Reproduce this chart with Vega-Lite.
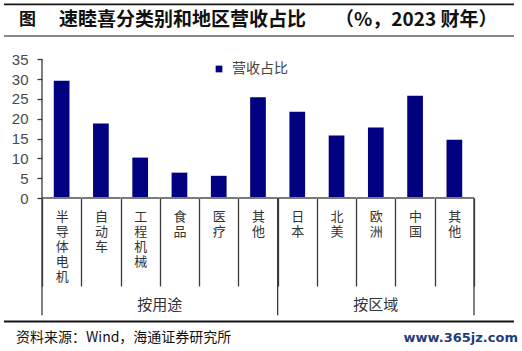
{
  "$schema": "https://vega.github.io/schema/vega-lite/v6.json",
  "padding": {"left": 3, "top": 0, "right": 0, "bottom": 0},
  "autosize": {"type": "pad"},
  "spacing": 0,
  "background": "white",
  "config": {"view": {"stroke": null}, "concat": {"spacing": 0}},
  "resolve": {"scale": {"x": "independent", "y": "independent", "color": "independent"}},
  "vconcat": [
    {
      "width": 510,
      "height": 52,
      "data": {"values": [{}]},
      "layer": [
        {
          "mark": {"type": "text", "align": "left", "baseline": "middle", "font": "Noto Sans CJK SC", "fontSize": 17, "fontWeight": "bold", "color": "#111111"},
          "encoding": {
            "x": {"datum": 25, "type": "quantitative", "scale": {"domain": [10, 520], "nice": false, "zero": false}, "axis": null},
            "y": {"datum": 30, "type": "quantitative", "scale": {"domain": [10, 62], "nice": false, "zero": false, "reverse": true}, "axis": null},
            "text": {"value": "图"}
          }
        },
        {
          "mark": {"type": "rule", "color": "#141414", "strokeWidth": 1.7},
          "encoding": {
            "y": {"datum": 14.45, "type": "quantitative"}
          }
        },
        {
          "mark": {"type": "rule", "color": "#141414", "strokeWidth": 1.1},
          "encoding": {
            "y": {"datum": 46.05, "type": "quantitative"}
          }
        },
        {
          "mark": {"type": "text", "align": "left", "baseline": "middle", "font": "Noto Sans CJK SC", "fontSize": 19, "fontWeight": "bold", "color": "#111111"},
          "encoding": {
            "x": {"datum": 65, "type": "quantitative"},
            "y": {"datum": 30, "type": "quantitative"},
            "text": {"value": "速睦喜分类别和地区营收占比"}
          }
        },
        {
          "mark": {"type": "text", "align": "left", "baseline": "middle", "font": "Noto Sans CJK SC", "fontSize": 19, "fontWeight": "bold", "color": "#111111"},
          "encoding": {
            "x": {"datum": 341, "type": "quantitative"},
            "y": {"datum": 30, "type": "quantitative"},
            "text": {"value": "（%，2023 财年）"}
          }
        }
      ]
    },
    {
      "width": 510,
      "height": 146,
      "data": {"values": [
        {"cat": "半导体电机", "v": 29.6},
        {"cat": "自动车", "v": 18.8},
        {"cat": "工程机械", "v": 10.2},
        {"cat": "食品", "v": 6.4},
        {"cat": "医疗", "v": 5.6},
        {"cat": "其他", "v": 25.4},
        {"cat": "日本", "v": 21.8},
        {"cat": "北美", "v": 15.8},
        {"cat": "欧洲", "v": 17.8},
        {"cat": "中国", "v": 25.8},
        {"cat": "其他 ", "v": 14.7}
      ]},
      "layer": [
        {
          "mark": {"type": "bar", "width": {"band": 0.4}},
          "encoding": {
            "x": {
              "field": "cat", "type": "nominal", "sort": null,
              "scale": {"range": [38, 470], "paddingInner": 0, "paddingOuter": 0},
              "axis": {
                "title": null, "domain": false, "grid": false,
                "tickBand": "extent", "tickSize": 88, "tickColor": "#3a3a3a", "tickWidth": 1.3,
                "labelExpr": "split(datum.label, '')",
                "labelPadding": -76, "labelBaseline": "top", "labelAngle": 0,
                "labelFont": "Noto Sans CJK SC", "labelFontSize": 13, "labelColor": "#333333",
                "labelLineHeight": 15, "labelOverlap": false, "labelFlush": false
              }
            },
            "y": {
              "field": "v", "type": "quantitative",
              "scale": {"domain": [0, 36.85], "nice": false},
              "axis": {
                "title": null, "domain": false, "grid": false, "offset": -38,
                "values": [0, 5, 10, 15, 20, 25, 30, 35], "tickCount": 8,
                "labelOverlap": false,
                "tickSize": 5, "tickColor": "#3a3a3a", "tickWidth": 1.3,
                "labelFont": "Liberation Sans", "labelFontSize": 15, "labelColor": "#4a4a4a",
                "labelPadding": 9
              }
            },
            "color": {
              "datum": "营收占比", "type": "nominal",
              "scale": {"range": ["#000080"]},
              "legend": {
                "title": null, "orient": "none", "legendX": 208, "legendY": 10,
                "symbolType": "square", "symbolSize": 45, "symbolStrokeWidth": 0,
                "labelFont": "Noto Sans CJK SC", "labelFontSize": 14, "labelColor": "#444444",
                "labelOffset": 6
              }
            }
          }
        },
        {
          "mark": {"type": "rect", "color": "#7a7a7a"},
          "encoding": {
            "x": {"field": "cat", "type": "nominal", "sort": null},
            "y": {
              "datum": 0.25, "type": "quantitative",
              "axis": {
                "title": null, "domain": false, "grid": false, "offset": -38,
                "values": [0, 5, 10, 15, 20, 25, 30, 35], "tickCount": 8,
                "labelOverlap": false,
                "tickSize": 5, "tickColor": "#3a3a3a", "tickWidth": 1.3,
                "labelFont": "Liberation Sans", "labelFontSize": 15, "labelColor": "#4a4a4a",
                "labelPadding": 9
              }
            },
            "y2": {"datum": -0.25}
          }
        },
        {
          "data": {"values": [{}]},
          "mark": {"type": "rule", "color": "#3a3a3a", "strokeWidth": 1.3},
          "encoding": {
            "x": {"datum": "半导体电机", "type": "nominal", "bandPosition": 0},
            "y": {"datum": 35, "type": "quantitative"},
            "y2": {"datum": -29.6}
          }
        },
        {
          "data": {"values": [{}]},
          "mark": {"type": "rule", "color": "#3a3a3a", "strokeWidth": 1.3},
          "encoding": {
            "x": {"datum": "日本", "type": "nominal", "bandPosition": 0},
            "y": {"datum": 0, "type": "quantitative"},
            "y2": {"datum": -29.6}
          }
        },
        {
          "data": {"values": [{}]},
          "mark": {"type": "rule", "color": "#3a3a3a", "strokeWidth": 1.3},
          "encoding": {
            "x": {"datum": "其他 ", "type": "nominal", "bandPosition": 1},
            "y": {"datum": 0, "type": "quantitative"},
            "y2": {"datum": -29.6}
          }
        },
        {
          "data": {"values": [{}]},
          "mark": {"type": "text", "font": "Noto Sans CJK SC", "fontSize": 15, "color": "#333333", "baseline": "middle", "align": "center"},
          "encoding": {
            "x": {"datum": "食品", "type": "nominal", "bandPosition": 0},
            "y": {"datum": -27.1, "type": "quantitative"},
            "text": {"value": "按用途"}
          }
        },
        {
          "data": {"values": [{}]},
          "mark": {"type": "text", "font": "Noto Sans CJK SC", "fontSize": 15, "color": "#333333", "baseline": "middle", "align": "center"},
          "encoding": {
            "x": {"datum": "欧洲", "type": "nominal", "bandPosition": 0.5},
            "y": {"datum": -27.1, "type": "quantitative"},
            "text": {"value": "按区域"}
          }
        }
      ]
    },
    {
      "width": 510,
      "height": 35,
      "data": {"values": [{}]},
      "layer": [
        {
          "mark": {"type": "text", "align": "left", "baseline": "middle", "font": "Noto Sans CJK SC", "fontSize": 14, "color": "#111111"},
          "encoding": {
            "x": {"datum": 22, "type": "quantitative", "scale": {"domain": [10, 520], "nice": false, "zero": false}, "axis": null},
            "y": {"datum": 32, "type": "quantitative", "scale": {"domain": [10, 45], "nice": false, "zero": false, "reverse": true}, "axis": null},
            "text": {"value": "资料来源：Wind，海通证券研究所"}
          }
        },
        {
          "mark": {"type": "rule", "color": "#141414", "strokeWidth": 2},
          "encoding": {
            "y": {"datum": 15.5, "type": "quantitative"}
          }
        },
        {
          "mark": {"type": "text", "align": "right", "baseline": "middle", "font": "DejaVu Sans", "fontSize": 13, "fontWeight": "bold", "color": "#1f3f7a"},
          "encoding": {
            "x": {"datum": 524, "type": "quantitative"},
            "y": {"datum": 32, "type": "quantitative"},
            "text": {"value": "www.365jz.com"}
          }
        }
      ]
    }
  ]
}
